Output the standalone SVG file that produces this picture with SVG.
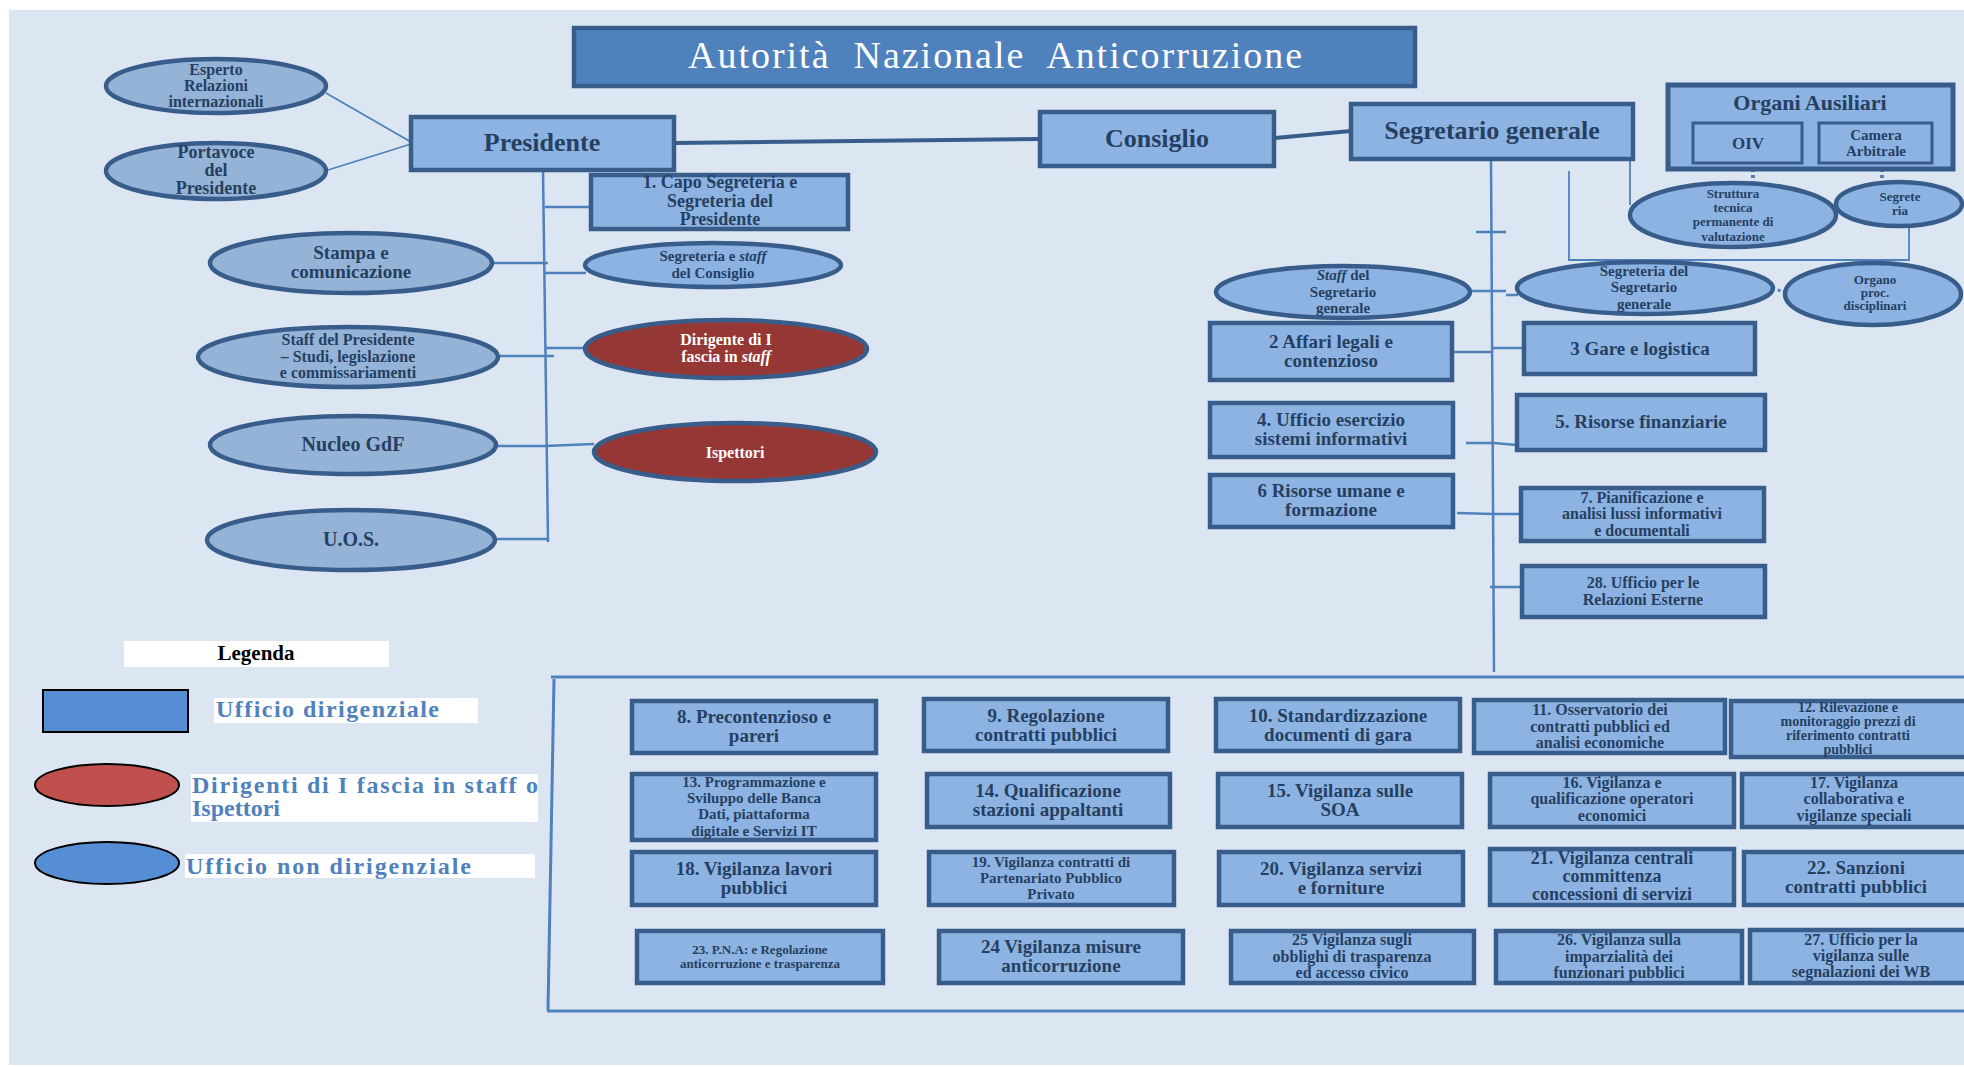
<svg xmlns="http://www.w3.org/2000/svg" width="1964" height="1067" viewBox="0 0 1964 1067">
<style>
.bg{fill:#DCE6F2}
.box{fill:#8DB3E2;stroke:#385D8A;stroke-width:4.5}
.box2{fill:#8DB3E2;stroke:#385D8A;stroke-width:3}
.ell{fill:#95B3D7;stroke:#385D8A;stroke-width:4.5}
.ell2{fill:#8DB3E2;stroke:#385D8A;stroke-width:4.5}
.red{fill:#953735;stroke:#385D8A;stroke-width:4.5}
.t{font-family:"Liberation Serif",serif;font-weight:bold;fill:#254061;text-anchor:middle}
.w{fill:#FFFFFF}
.f13{font-size:13px}.f14{font-size:14px}.f15{font-size:15px}.f16{font-size:16px}.f17{font-size:17px}.f18{font-size:18px}.f19{font-size:19px}.f20{font-size:20px}.f22{font-size:22px}.f26{font-size:26px}
.c{fill:none;stroke:#4F81BD;stroke-width:2.5}
.ct{fill:none;stroke:#4F81BD;stroke-width:1.8}
.cb{fill:none;stroke:#385D8A;stroke-width:4}
.cd{fill:none;stroke:#4F81BD;stroke-width:4;stroke-dasharray:3 3}
.lg{font-family:"Liberation Serif",serif;font-weight:bold;fill:#4F81BD;font-size:24px}
</style>
<rect class="bg" x="9" y="10" width="1955" height="1055"/>

<g id="connectors">
<line class="cb" x1="675" y1="143" x2="1040" y2="139"/>
<line class="cb" x1="1275" y1="138" x2="1351" y2="131"/>
<line class="ct" x1="326" y1="93" x2="411" y2="142"/>
<line class="ct" x1="328" y1="170" x2="411" y2="144"/>
<line class="c" x1="543" y1="170" x2="548" y2="542"/>
<line class="c" x1="545" y1="207" x2="591" y2="207"/>
<line class="c" x1="492" y1="263" x2="548" y2="263"/>
<line class="c" x1="545" y1="273" x2="586" y2="273"/>
<line class="c" x1="499" y1="356" x2="554" y2="356"/>
<line class="c" x1="546" y1="348" x2="586" y2="348"/>
<polyline class="c" points="497,446 545,446 594,444"/>
<line class="c" x1="495" y1="539" x2="549" y2="539"/>
<line class="c" x1="1491" y1="159" x2="1494" y2="672"/>
<line class="c" x1="1476" y1="232" x2="1506" y2="232"/>
<line class="ct" x1="1630" y1="159" x2="1630" y2="205"/>
<polyline class="ct" points="1569,171 1569,260 1909,260 1909,227"/>
<line class="cd" x1="1753" y1="163" x2="1753" y2="184"/>
<line class="cd" x1="1882" y1="163" x2="1882" y2="183"/>
<line class="c" x1="1470" y1="291" x2="1506" y2="291"/>
<line class="c" x1="1506" y1="295" x2="1518" y2="295"/>
<line class="cd" x1="1772" y1="288" x2="1784" y2="292" style="stroke-width:3"/>
<line class="c" x1="1452" y1="352" x2="1492" y2="352"/>
<line class="c" x1="1492" y1="348" x2="1524" y2="348"/>
<polyline class="c" points="1466,443 1494,443 1517,445"/>
<polyline class="c" points="1457,513 1494,514 1521,514"/>
<line class="c" x1="1490" y1="587" x2="1524" y2="587"/>
<line class="c" x1="551" y1="677" x2="1964" y2="677" style="stroke-width:3"/>
<line class="c" x1="554" y1="679" x2="548" y2="1010" style="stroke-width:3"/>
<line class="c" x1="547" y1="1011" x2="1964" y2="1011" style="stroke-width:3"/>
</g>

<g id="title">
<rect x="574" y="28" width="841" height="58" fill="#4F81BD" stroke="#385D8A" stroke-width="4.5"/>
<text x="995" y="68" font-family="Liberation Serif, serif" font-size="38" fill="#FFFFFF" text-anchor="middle" textLength="614" lengthAdjust="spacing">Autorità&#160; Nazionale&#160; Anticorruzione</text>
</g>

<g id="presidente"><rect class="box" x="411" y="117" width="263" height="53"/><text class="t f26" x="542" y="151">Presidente</text></g>
<g id="consiglio"><rect class="box" x="1040" y="112" width="234" height="54"/><text class="t f26" x="1157" y="147">Consiglio</text></g>
<g id="segretario"><rect class="box" x="1351" y="104" width="282" height="55"/><text class="t f26" x="1492" y="139">Segretario generale</text></g>

<g id="esperto"><ellipse class="ell" cx="216" cy="86" rx="110" ry="27"/><text class="t f16"><tspan x="216" y="75">Esperto</tspan><tspan x="216" y="91">Relazioni</tspan><tspan x="216" y="107">internazionali</tspan></text></g>
<g id="portavoce"><ellipse class="ell" cx="216" cy="171" rx="110" ry="28"/><text class="t f18"><tspan x="216" y="158">Portavoce</tspan><tspan x="216" y="176">del</tspan><tspan x="216" y="194">Presidente</tspan></text></g>
<g id="stampa"><ellipse class="ell" cx="351" cy="263" rx="141" ry="30"/><text class="t f19"><tspan x="351" y="259">Stampa e</tspan><tspan x="351" y="278">comunicazione</tspan></text></g>
<g id="staffpres"><ellipse class="ell" cx="348" cy="357" rx="150" ry="30"/><text class="t f16"><tspan x="348" y="345">Staff del Presidente</tspan><tspan x="348" y="362">– Studi, legislazione</tspan><tspan x="348" y="378">e commissariamenti</tspan></text></g>
<g id="nucleo"><ellipse class="ell" cx="353" cy="445" rx="143" ry="29"/><text class="t f20" x="353" y="451">Nucleo GdF</text></g>
<g id="uos"><ellipse class="ell" cx="351" cy="540" rx="144" ry="30"/><text class="t f20" x="351" y="546">U.O.S.</text></g>

<g id="capo"><rect class="box" x="591" y="175" width="257" height="54"/><text class="t f18"><tspan x="720" y="188">1. Capo Segreteria e</tspan><tspan x="720" y="207">Segreteria del</tspan><tspan x="720" y="225">Presidente</tspan></text></g>
<g id="segrconsiglio"><ellipse class="ell2" cx="713" cy="265" rx="128" ry="22"/><text class="t f15"><tspan x="713" y="261">Segreteria e <tspan font-style="italic">staff</tspan></tspan><tspan x="713" y="278">del Consiglio</tspan></text></g>
<g id="dirigente"><ellipse class="red" cx="726" cy="349" rx="141" ry="29"/><text class="t w f16"><tspan x="726" y="345">Dirigente di I</tspan><tspan x="726" y="362">fascia in <tspan font-style="italic">staff</tspan></tspan></text></g>
<g id="ispettori"><ellipse class="red" cx="735" cy="452" rx="141" ry="29"/><text class="t w f16" x="735" y="458">Ispettori</text></g>

<g id="organi">
<rect class="box" x="1668" y="85" width="285" height="84" style="stroke-width:5"/>
<text class="t f22" x="1810" y="110">Organi Ausiliari</text>
</g>
<g id="oiv"><rect class="box2" x="1693" y="123" width="109" height="40"/><text class="t f17" x="1748" y="149">OIV</text></g>
<g id="camera"><rect class="box2" x="1819" y="123" width="113" height="40"/><text class="t f15"><tspan x="1876" y="140">Camera</tspan><tspan x="1876" y="156">Arbitrale</tspan></text></g>
<g id="struttura"><ellipse class="ell2" cx="1733" cy="215" rx="103" ry="32"/><text class="t f13"><tspan x="1733" y="198">Struttura</tspan><tspan x="1733" y="212">tecnica</tspan><tspan x="1733" y="226">permanente di</tspan><tspan x="1733" y="241">valutazione</tspan></text></g>
<g id="segreteriaoiv"><ellipse class="ell2" cx="1899" cy="204" rx="63" ry="22"/><text class="t f13"><tspan x="1900" y="201">Segrete</tspan><tspan x="1900" y="215">ria</tspan></text></g>
<g id="staffsg"><ellipse class="ell2" cx="1343" cy="292" rx="127" ry="26"/><text class="t f15"><tspan x="1343" y="280"><tspan font-style="italic">Staff</tspan> del</tspan><tspan x="1343" y="297">Segretario</tspan><tspan x="1343" y="313">generale</tspan></text></g>
<g id="segrsg"><ellipse class="ell2" cx="1645" cy="288" rx="128" ry="26"/><text class="t f15"><tspan x="1644" y="276">Segreteria del</tspan><tspan x="1644" y="292">Segretario</tspan><tspan x="1644" y="309">generale</tspan></text></g>
<g id="organo"><ellipse class="ell2" cx="1873" cy="294" rx="88" ry="31"/><text class="t f13"><tspan x="1875" y="284">Organo</tspan><tspan x="1875" y="297">proc.</tspan><tspan x="1875" y="310">disciplinari</tspan></text></g>

<g id="u2"><rect class="box" x="1210" y="323" width="242" height="57"/><text class="t f19"><tspan x="1331" y="348">2 Affari legali e</tspan><tspan x="1331" y="367">contenzioso</tspan></text></g>
<g id="u3"><rect class="box" x="1524" y="323" width="231" height="51"/><text class="t f19" x="1640" y="355">3 Gare e logistica</text></g>
<g id="u4"><rect class="box" x="1210" y="403" width="243" height="54"/><text class="t f19"><tspan x="1331" y="426">4. Ufficio esercizio</tspan><tspan x="1331" y="445">sistemi informativi</tspan></text></g>
<g id="u5"><rect class="box" x="1517" y="395" width="248" height="55"/><text class="t f19" x="1641" y="428">5. Risorse finanziarie</text></g>
<g id="u6"><rect class="box" x="1210" y="475" width="243" height="52"/><text class="t f19"><tspan x="1331" y="497">6 Risorse umane e</tspan><tspan x="1331" y="516">formazione</tspan></text></g>
<g id="u7"><rect class="box" x="1521" y="488" width="243" height="53"/><text class="t f16"><tspan x="1642" y="503">7. Pianificazione e</tspan><tspan x="1642" y="519">analisi lussi informativi</tspan><tspan x="1642" y="536">e documentali</tspan></text></g>
<g id="u28"><rect class="box" x="1522" y="566" width="243" height="51"/><text class="t f16"><tspan x="1643" y="588">28. Ufficio per le</tspan><tspan x="1643" y="605">Relazioni Esterne</tspan></text></g>

<g id="u8"><rect class="box" x="632" y="701" width="244" height="52"/><text class="t f19"><tspan x="754" y="723">8. Precontenzioso e</tspan><tspan x="754" y="742">pareri</tspan></text></g>
<g id="u9"><rect class="box" x="924" y="699" width="244" height="52"/><text class="t f19"><tspan x="1046" y="722">9. Regolazione</tspan><tspan x="1046" y="741">contratti pubblici</tspan></text></g>
<g id="u10"><rect class="box" x="1216" y="699" width="244" height="52"/><text class="t f19"><tspan x="1338" y="722">10. Standardizzazione</tspan><tspan x="1338" y="741">documenti di gara</tspan></text></g>
<g id="u11"><rect class="box" x="1474" y="700" width="251" height="53"/><text class="t f16"><tspan x="1600" y="715">11. Osservatorio dei</tspan><tspan x="1600" y="732">contratti pubblici ed</tspan><tspan x="1600" y="748">analisi economiche</tspan></text></g>
<g id="u12"><rect class="box" x="1731" y="701" width="250" height="56"/><text class="t f14"><tspan x="1848" y="712">12. Rilevazione e</tspan><tspan x="1848" y="726">monitoraggio prezzi di</tspan><tspan x="1848" y="740">riferimento contratti</tspan><tspan x="1848" y="754">pubblici</tspan></text></g>
<g id="u13"><rect class="box" x="632" y="774" width="244" height="66"/><text class="t f15"><tspan x="754" y="787">13. Programmazione e</tspan><tspan x="754" y="803">Sviluppo delle Banca</tspan><tspan x="754" y="819">Dati, piattaforma</tspan><tspan x="754" y="836">digitale e Servizi IT</tspan></text></g>
<g id="u14"><rect class="box" x="927" y="774" width="243" height="53"/><text class="t f19"><tspan x="1048" y="797">14. Qualificazione</tspan><tspan x="1048" y="816">stazioni appaltanti</tspan></text></g>
<g id="u15"><rect class="box" x="1218" y="774" width="244" height="53"/><text class="t f19"><tspan x="1340" y="797">15. Vigilanza sulle</tspan><tspan x="1340" y="816">SOA</tspan></text></g>
<g id="u16"><rect class="box" x="1490" y="774" width="244" height="53"/><text class="t f16"><tspan x="1612" y="788">16. Vigilanza e</tspan><tspan x="1612" y="804">qualificazione operatori</tspan><tspan x="1612" y="821">economici</tspan></text></g>
<g id="u17"><rect class="box" x="1742" y="774" width="250" height="53"/><text class="t f16"><tspan x="1854" y="788">17. Vigilanza</tspan><tspan x="1854" y="804">collaborativa e</tspan><tspan x="1854" y="821">vigilanze speciali</tspan></text></g>
<g id="u18"><rect class="box" x="632" y="852" width="244" height="53"/><text class="t f19"><tspan x="754" y="875">18. Vigilanza lavori</tspan><tspan x="754" y="894">pubblici</tspan></text></g>
<g id="u19"><rect class="box" x="929" y="852" width="245" height="53"/><text class="t f15"><tspan x="1051" y="867">19. Vigilanza contratti di</tspan><tspan x="1051" y="883">Partenariato Pubblico</tspan><tspan x="1051" y="899">Privato</tspan></text></g>
<g id="u20"><rect class="box" x="1219" y="852" width="244" height="53"/><text class="t f19"><tspan x="1341" y="875">20. Vigilanza servizi</tspan><tspan x="1341" y="894">e forniture</tspan></text></g>
<g id="u21"><rect class="box" x="1490" y="849" width="244" height="56"/><text class="t f18"><tspan x="1612" y="864">21. Vigilanza centrali</tspan><tspan x="1612" y="882">committenza</tspan><tspan x="1612" y="900">concessioni di servizi</tspan></text></g>
<g id="u22"><rect class="box" x="1744" y="852" width="250" height="53"/><text class="t f19"><tspan x="1856" y="874">22. Sanzioni</tspan><tspan x="1856" y="893">contratti pubblici</tspan></text></g>
<g id="u23"><rect class="box" x="637" y="931" width="246" height="52"/><text class="t f13"><tspan x="760" y="954">23. P.N.A: e Regolazione</tspan><tspan x="760" y="968">anticorruzione e trasparenza</tspan></text></g>
<g id="u24"><rect class="box" x="939" y="931" width="244" height="52"/><text class="t f19"><tspan x="1061" y="953">24 Vigilanza misure</tspan><tspan x="1061" y="972">anticorruzione</tspan></text></g>
<g id="u25"><rect class="box" x="1231" y="931" width="243" height="52"/><text class="t f16"><tspan x="1352" y="945">25 Vigilanza sugli</tspan><tspan x="1352" y="962">obblighi di trasparenza</tspan><tspan x="1352" y="978">ed accesso civico</tspan></text></g>
<g id="u26"><rect class="box" x="1496" y="931" width="246" height="52"/><text class="t f16"><tspan x="1619" y="945">26. Vigilanza sulla</tspan><tspan x="1619" y="962">imparzialità dei</tspan><tspan x="1619" y="978">funzionari pubblici</tspan></text></g>
<g id="u27"><rect class="box" x="1750" y="930" width="250" height="53"/><text class="t f16"><tspan x="1861" y="945">27. Ufficio per la</tspan><tspan x="1861" y="961">vigilanza sulle</tspan><tspan x="1861" y="977">segnalazioni dei WB</tspan></text></g>

<g id="legenda">
<rect x="124" y="641" width="265" height="26" fill="#FFFFFF"/>
<text x="256" y="660" font-family="Liberation Serif, serif" font-weight="bold" font-size="21" fill="#000000" text-anchor="middle">Legenda</text>
<rect x="43" y="690" width="145" height="42" fill="#558ED5" stroke="#000000" stroke-width="2"/>
<rect x="214" y="698" width="264" height="25" fill="#FFFFFF"/>
<text class="lg" x="216" y="717" textLength="223" lengthAdjust="spacing">Ufficio dirigenziale</text>
<ellipse cx="107" cy="785" rx="72" ry="21" fill="#C0504D" stroke="#000000" stroke-width="2"/>
<rect x="191" y="774" width="347" height="48" fill="#FFFFFF"/>
<text class="lg" x="192" y="793" textLength="346" lengthAdjust="spacing">Dirigenti di I fascia in staff o</text>
<text class="lg" x="192" y="816">Ispettori</text>
<ellipse cx="107" cy="863" rx="72" ry="21" fill="#558ED5" stroke="#000000" stroke-width="2"/>
<rect x="185" y="854" width="350" height="24" fill="#FFFFFF"/>
<text class="lg" x="186" y="874" textLength="285" lengthAdjust="spacing">Ufficio non dirigenziale</text>
</g>
</svg>
